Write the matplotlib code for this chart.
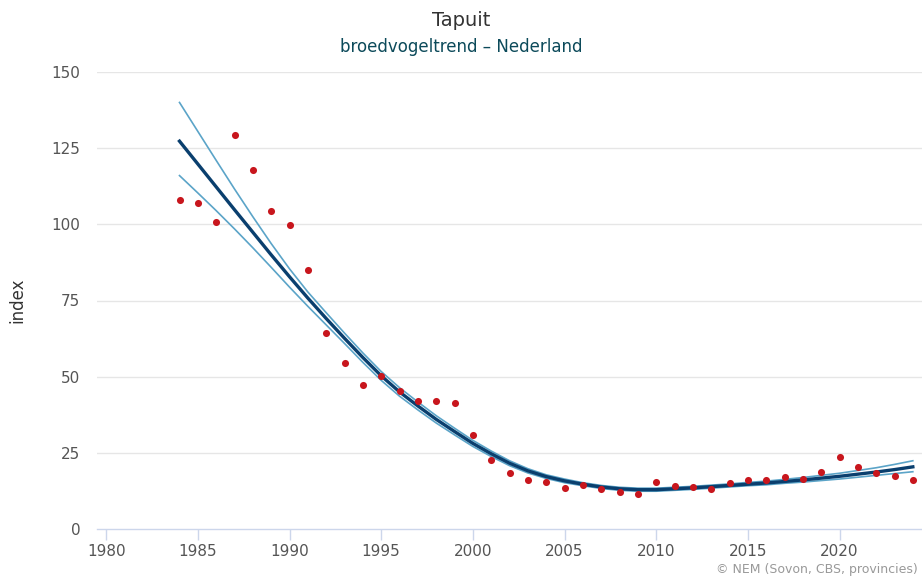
import numpy as np
import matplotlib
matplotlib.use("Agg")
import matplotlib.pyplot as plt

# Tapuit - broedvogeltrend Nederland (index)
years = list(range(1984, 2025))

# yearly index values (red dots)
index_pts = [108.1, 107.1, 100.9, 129.2, 117.7, 104.3, 99.9, 85.0, 64.4, 54.4,
             47.2, 50.2, 45.4, 41.9, 41.9, 41.4, 30.8, 22.6, 18.4, 16.0,
             15.5, 13.6, 14.3, 13.0, 12.0, 11.5, 15.5, 14.1, 13.7, 13.0,
             15.1, 16.0, 16.1, 17.0, 16.5, 18.8, 23.6, 20.2, 18.5, 17.4,
             16.0]

# smoothed trend
trend = [127.3, 119.8, 112.3, 104.8, 97.4, 90.0, 82.8, 75.8, 69.1, 62.6,
         56.3, 50.3, 45.0, 40.4, 36.0, 32.0, 28.1, 24.7, 21.6, 19.1,
         17.2, 15.8, 14.7, 13.8, 13.2, 12.9, 12.9, 13.2, 13.5, 13.9,
         14.3, 14.7, 15.1, 15.6, 16.1, 16.7, 17.3, 18.0, 18.7, 19.5,
         20.4]

# confidence band
upper = [140.0, 130.5, 121.0, 111.6, 102.5, 93.7, 85.4, 77.8, 71.0, 64.3,
         57.8, 51.7, 46.4, 41.7, 37.2, 33.1, 29.1, 25.6, 22.4, 19.8,
         17.8, 16.4, 15.2, 14.3, 13.7, 13.4, 13.4, 13.7, 14.0, 14.4,
         14.8, 15.3, 15.7, 16.3, 16.9, 17.6, 18.3, 19.2, 20.1, 21.2,
         22.4]
lower = [116.0, 110.3, 104.5, 98.5, 92.3, 85.9, 79.4, 73.1, 67.0, 60.9,
         54.7, 48.8, 43.6, 39.1, 34.8, 30.9, 27.1, 23.8, 20.8, 18.4,
         16.6, 15.2, 14.2, 13.3, 12.7, 12.4, 12.4, 12.7, 13.0, 13.4,
         13.8, 14.2, 14.5, 15.0, 15.4, 15.9, 16.4, 17.0, 17.6, 18.2,
         18.8]

xticks = [1980, 1985, 1990, 1995, 2000, 2005, 2010, 2015, 2020]
yticks = [0, 25, 50, 75, 100, 125, 150]

plt.rcParams['font.family'] = ['DejaVu Sans']

fig = plt.figure(figsize=(9.22, 5.78), dpi=100)
ax = fig.add_axes([97/922, 49/578, 825/922, 457/578])

for y in yticks[1:]:
    ax.axhline(y, color='#e6e6e6', lw=1, zorder=0)

ax.plot(years, upper, color='#5ba4c8', lw=1.2, zorder=2)
ax.plot(years, lower, color='#5ba4c8', lw=1.2, zorder=2)
ax.plot(years, trend, color='#0a3f6e', lw=2.4, zorder=3)
ax.scatter(years, index_pts, s=26, color='#c8161d', zorder=4, linewidths=0)

ax.set_xlim(1979.5, 2024.5)
ax.set_ylim(0, 150)
ax.set_xticks(xticks)
ax.set_yticks(yticks)

for s in ['top', 'right', 'left']:
    ax.spines[s].set_visible(False)
ax.spines['bottom'].set_color('#ccd6eb')
ax.spines['bottom'].set_linewidth(1)

ax.tick_params(axis='x', colors='#ccd6eb', length=8, width=1, labelcolor='#555555',
               labelsize=11, pad=3)
ax.tick_params(axis='y', length=0, labelcolor='#555555', labelsize=11, pad=12)

ax.set_ylabel('index', fontsize=12, color='#333333', labelpad=18)

fig.text(0.5, 1 - 21/578, 'Tapuit', ha='center', va='center', fontsize=14, color='#333333')
fig.text(0.5, 1 - 47/578, 'broedvogeltrend \u2013 Nederland', ha='center', va='center',
         fontsize=12, color='#0c4a5a')
fig.text(918/922, 1 - 570/578, '\u00a9 NEM (Sovon, CBS, provincies)', ha='right', va='center',
         fontsize=9, color='#999999')

fig.savefig('out.png', dpi=100)
